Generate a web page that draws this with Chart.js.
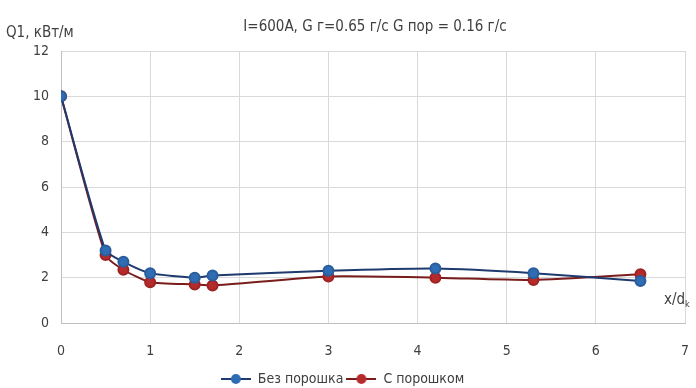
<!DOCTYPE html>
<html>
<head>
<meta charset="utf-8">
<script src="https://cdn.jsdelivr.net/npm/chart.js@4/dist/chart.umd.min.js"></script>
<style>
  html, body { margin: 0; padding: 0; background: #fff; }
  #wrap { width: 696px; height: 388px; }
</style>
</head>
<body>
<div id="wrap"><canvas id="q1Chart" width="696" height="388"></canvas></div>
<script>
let xPositions = [0, 0.5, 0.7, 1, 1.5, 1.7, 3, 4.2, 5.3, 6.5];
let withoutPowder = [10, 3.2, 2.7, 2.2, 2.0, 2.1, 2.3, 2.4, 2.2, 1.85];
let withPowder = [10, 3.0, 2.35, 1.8, 1.7, 1.65, 2.05, 2.0, 1.9, 2.15];
let seriesNames = ["Без порошка", "С порошком"];

let chartTitle = "I=600A, G г=0.65 г/с G пор = 0.16 г/с";
let yAxisLabel = "Q1, кВт/м";

const FONT = "'Liberation Sans Narrow', 'DejaVu Sans Condensed', 'Liberation Sans', sans-serif";

function toPoints(values){
    return xPositions.map((x, i) => ({x: x, y: values[i]}));
}

// legend symbol: short line with a marker in the middle, like excel
function legendSymbol(lineColor, fillColor){
    let c = document.createElement('canvas');
    c.width = 30;
    c.height = 12;
    let g = c.getContext('2d');
    g.strokeStyle = lineColor;
    g.lineWidth = 2;
    g.beginPath();
    g.moveTo(0, 6);
    g.lineTo(30, 6);
    g.stroke();
    g.fillStyle = fillColor;
    g.beginPath();
    g.arc(15, 6, 5, 0, Math.PI * 2);
    g.fill();
    return c;
}

// text that chart.js does not place where we want it
const extraText = {
    id: 'extraText',
    afterDraw(chart) {
        const ctx = chart.ctx;
        const area = chart.chartArea;
        ctx.save();
        ctx.fillStyle = '#404040';
        ctx.font = '15px ' + FONT;
        ctx.textBaseline = 'middle';
        ctx.textAlign = 'center';
        ctx.fillText(chartTitle, 375, 27);
        ctx.textAlign = 'left';
        ctx.fillText(yAxisLabel, 6, 33);
        // x/d_k
        ctx.fillText('x/d', area.right - 21, area.bottom - 23);
        let w = ctx.measureText('x/d').width;
        ctx.font = '9px ' + FONT;
        ctx.fillText('k', area.right - 21 + w, area.bottom - 18);
        ctx.restore();
    }
};

new Chart(document.getElementById('q1Chart'), {
    type: 'line',
    data: {
        datasets: [{
            label: seriesNames[0],
            data: toPoints(withoutPowder),
            borderColor: '#1f3a6e',
            backgroundColor: '#2e6db4',
            pointBackgroundColor: '#2e6db4',
            pointBorderColor: '#2a5d9c',
            pointStyle: 'circle',
            borderWidth: 2,
            pointRadius: 5,
            pointHoverRadius: 5,
            tension: 0.2
        }, {
            label: seriesNames[1],
            data: toPoints(withPowder),
            borderColor: '#7a1c1c',
            backgroundColor: '#b52b2b',
            pointBackgroundColor: '#b52b2b',
            pointBorderColor: '#9e2424',
            pointStyle: 'circle',
            borderWidth: 2,
            pointRadius: 5,
            pointHoverRadius: 5,
            tension: 0.2
        }]
    },
    options: {
        responsive: false,
        animation: false,
        layout: { padding: { top: 51, left: 0, right: 11, bottom: -8 } },
        plugins: {
            title: { display: false },
            tooltip: { enabled: false },
            legend: {
                position: 'bottom',
                labels: {
                    usePointStyle: true,
                    pointStyleWidth: 30,
                    boxWidth: 30,
                    boxHeight: 12,
                    padding: 3,
                    color: '#404040',
                    font: { family: FONT, size: 14 },
                    generateLabels: (chart) => chart.data.datasets.map((ds, i) => ({
                        text: ds.label,
                        fontColor: '#404040',
                        pointStyle: legendSymbol(ds.borderColor, ds.pointBackgroundColor),
                        datasetIndex: i,
                        hidden: false,
                        lineWidth: 0
                    }))
                }
            }
        },
        scales: {
            x: {
                type: 'linear',
                min: 0,
                max: 7,
                ticks: { stepSize: 1, color: '#404040', font: { family: FONT, size: 14 }, padding: 20 },
                grid: { color: '#d9d9d9', drawTicks: false },
                border: { color: '#bfbfbf' },
                afterFit: (s) => { s.height = 46; s.paddingRight = 0; s.paddingLeft = 0; }
            },
            y: {
                min: 0,
                max: 12,
                ticks: { stepSize: 2, color: '#404040', font: { family: FONT, size: 14 }, padding: 12 },
                grid: { color: '#d9d9d9', drawTicks: false },
                border: { color: '#bfbfbf' },
                afterFit: (s) => { s.width = 61; }
            }
        }
    },
    plugins: [extraText]
});
</script>
</body>
</html>
